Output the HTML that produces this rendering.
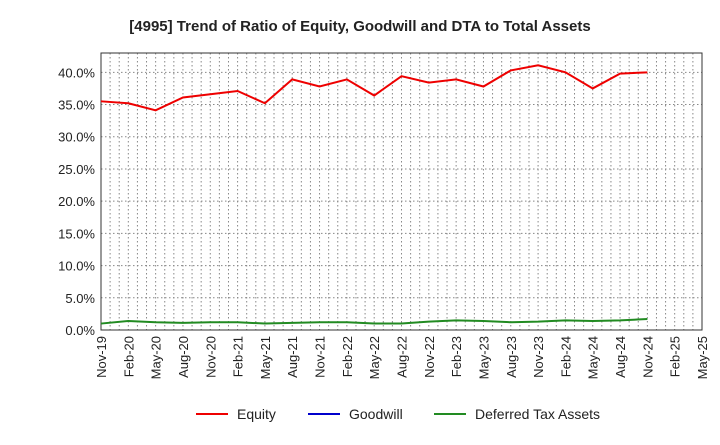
<!DOCTYPE html>
<html><head><meta charset="utf-8"><style>body{margin:0;background:#fff;font-family:"Liberation Sans",Arial,sans-serif}</style></head>
<body>
<svg id="c" width="720" height="440" xmlns="http://www.w3.org/2000/svg">
<text x="360" y="31" text-anchor="middle" font-size="15" font-weight="bold" fill="#222">[4995]  Trend of Ratio of Equity, Goodwill and DTA to Total Assets</text>
<g id="grid"></g><g id="axes"></g><g id="series"></g>
<g font-size="14" fill="#222">
<line x1="196" y1="414" x2="228" y2="414" stroke="#e00" stroke-width="2"/><text x="237" y="419">Equity</text>
<line x1="308" y1="414" x2="340" y2="414" stroke="#00c" stroke-width="2"/><text x="349" y="419">Goodwill</text>
<line x1="434" y1="414" x2="466" y2="414" stroke="#228b22" stroke-width="2"/><text x="475" y="419">Deferred Tax Assets</text>
</g>
</svg>
<script>
const categories=["Nov-19","Feb-20","May-20","Aug-20","Nov-20","Feb-21","May-21","Aug-21","Nov-21","Feb-22","May-22","Aug-22","Nov-22","Feb-23","May-23","Aug-23","Nov-23","Feb-24","May-24","Aug-24","Nov-24","Feb-25","May-25"];
const equity=[35.5,35.2,34.1,36.1,36.6,37.1,35.2,38.9,37.8,38.9,36.4,39.4,38.4,38.9,37.8,40.3,41.1,40.0,37.5,39.8,40.0];
const dta=[1.0,1.4,1.2,1.1,1.2,1.2,1.0,1.1,1.2,1.2,1.0,1.0,1.3,1.5,1.4,1.2,1.3,1.5,1.4,1.5,1.7];
const yTicks=[0,5,10,15,20,25,30,35,40];
const L=101,R=702,T=53,B=330,ymax=43;
const x=i=>L+i*(R-L)/(categories.length-1);
const y=v=>B-v/ymax*(B-T);
const NS="http://www.w3.org/2000/svg";
function mk(p,t,a){const e=document.createElementNS(NS,t);for(const k in a)e.setAttribute(k,a[k]);document.getElementById(p).appendChild(e);return e;}
for(let m=0;m<=(categories.length-1)*3;m++){const xx=L+m*(R-L)/((categories.length-1)*3);
const g=mk("grid","line",{x1:xx,x2:xx,y1:T,y2:B,stroke:"#888","stroke-dasharray":"1.5,2.5","stroke-width":1});

}
yTicks.forEach(v=>{const g=mk("grid","line",{x1:L,x2:R,y1:y(v),y2:y(v),stroke:"#888","stroke-dasharray":"1.5,2.5"});


const t=mk("axes","text",{x:L-6,y:y(v)+5,"text-anchor":"end","font-size":13,fill:"#222"});t.textContent=v.toFixed(1)+"%";

});
const fr=mk("axes","rect",{x:L,y:T,width:R-L,height:B-T,fill:"none",stroke:"#333"});


categories.forEach((c,i)=>{const t=mk("axes","text",{transform:`translate(${x(i)+5},${B+6}) rotate(-90)`,"text-anchor":"end","font-size":13,fill:"#222"});t.textContent=c;

});
function line(d,col,name){const p=mk("series","polyline",{points:d.map((v,i)=>x(i)+","+y(v)).join(" "),fill:"none",stroke:col,"stroke-width":2});

}
line(equity,"#e00","equity-line");line(dta,"#228b22","dta-line");
</script>
</body></html>
